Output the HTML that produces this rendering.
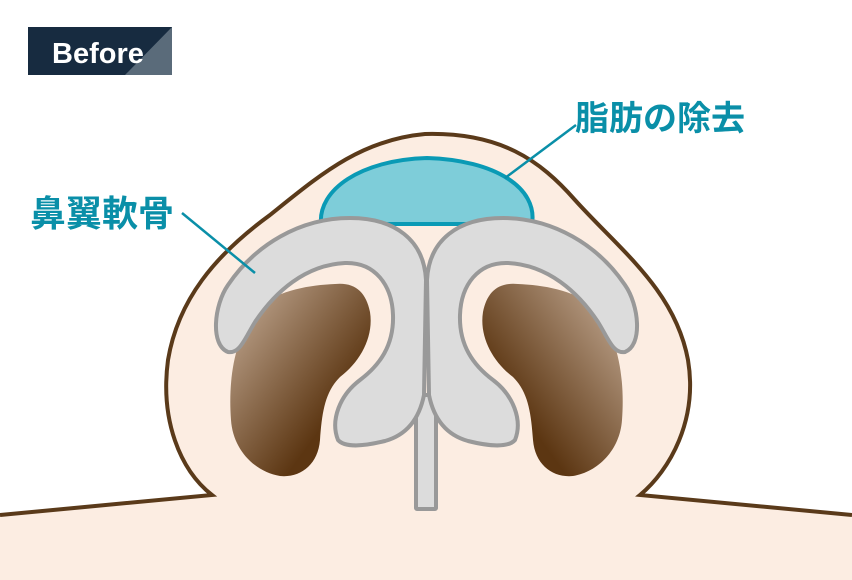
<!DOCTYPE html>
<html><head><meta charset="utf-8"><style>
body{margin:0;background:#fff;width:852px;height:580px;overflow:hidden}
svg{display:block}
</style></head><body>
<svg width="852" height="580" viewBox="0 0 852 580" xmlns="http://www.w3.org/2000/svg">
<defs>
<linearGradient id="ng" x1="0" y1="0" x2="1" y2="1">
<stop offset="0" stop-color="#c9b19c"/><stop offset="0.7" stop-color="#5c3612"/><stop offset="1" stop-color="#5c3612"/>
</linearGradient>
<linearGradient id="ng2" x1="1" y1="0" x2="0" y2="1">
<stop offset="0" stop-color="#c9b19c"/><stop offset="0.7" stop-color="#5c3612"/><stop offset="1" stop-color="#5c3612"/>
</linearGradient>
</defs>
<path d="M0 515 L212 495 C180 470,160 420,168 360 C178 300,215 255,270 215 C320 175,360 140,425 134 C500 132,540 160,575 200 C620 250,675 290,688 360 C698 420,670 470,640 495 L852 515 L852 580 L0 580 Z" fill="#fcede2"/>
<path d="M0 515 L212 495 C180 470,160 420,168 360 C178 300,215 255,270 215 C320 175,360 140,425 134 C500 132,540 160,575 200 C620 250,675 290,688 360 C698 420,670 470,640 495 L852 515" fill="none" stroke="#5a3a1a" stroke-width="4"/>
<path d="M321 224 C318 190,360 160,427 158 C495 160,538 188,532 224 Z" fill="#7ecdd9" stroke="#0a9ab5" stroke-width="4"/>
<path d="M335 284 C355 282,366 292,370 312 C374 337,360 362,340 377 C325 392,322 412,320 440 C318 465,300 478,280 476 C255 472,233 450,231 420 C228 380,234 335,260 306 C280 290,310 285,335 284 Z" fill="url(#ng)"/>
<path d="M518 284 C498 282,487 292,483 312 C479 337,493 362,513 377 C528 392,531 412,533 440 C535 465,553 478,573 476 C598 472,620 450,622 420 C625 380,619 335,593 306 C573 290,543 285,518 284 Z" fill="url(#ng2)"/>
<rect x="416" y="395" width="20" height="114" fill="#dcdcdc" stroke="#999" stroke-width="4" rx="1"/>
<path d="M426 280 C424 240,395 218,350 218 C300 218,255 245,228 285 C214 305,210 345,228 352 C240 354,245 338,255 322 C275 292,305 265,345 263 C375 262,392 285,393 315 C394 345,380 365,360 380 C340 395,330 420,338 440 C345 448,365 446,385 441 C410 434,420 415,424 395 Z" fill="#dcdcdc" stroke="#999" stroke-width="4" stroke-linejoin="round"/>
<g transform="translate(853,0) scale(-1,1)">
<path d="M426 280 C424 240,395 218,350 218 C300 218,255 245,228 285 C214 305,210 345,228 352 C240 354,245 338,255 322 C275 292,305 265,345 263 C375 262,392 285,393 315 C394 345,380 365,360 380 C340 395,330 420,338 440 C345 448,365 446,385 441 C410 434,420 415,424 395 Z" fill="#dcdcdc" stroke="#999" stroke-width="4" stroke-linejoin="round"/>
</g>
<line x1="182" y1="213" x2="255" y2="273" stroke="#0a8fa8" stroke-width="2.5"/>
<line x1="576" y1="125" x2="505" y2="178" stroke="#0a8fa8" stroke-width="2.5"/>
<text x="30" y="226" font-family="Liberation Sans, Noto Sans CJK JP, sans-serif" font-size="36" font-weight="bold" fill="#0a8fa8">鼻翼軟骨</text>
<text x="575" y="130" font-family="Liberation Sans, Noto Sans CJK JP, sans-serif" font-size="34" font-weight="bold" fill="#0a8fa8">脂肪の除去</text>
<rect x="28" y="27" width="144" height="48" fill="#172b40"/>
<polygon points="125,75 172,27 172,75" fill="#5a6b7a"/>
<text x="52" y="63" font-family="Liberation Sans, sans-serif" font-size="29" font-weight="bold" fill="#fff">Before</text>
</svg>
</body></html>
